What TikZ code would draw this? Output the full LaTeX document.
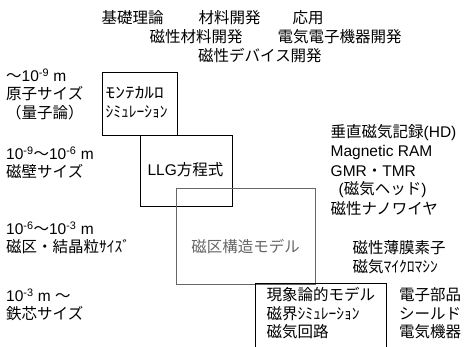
\documentclass[tikz,border=0pt]{standalone}
\usepackage{fontspec}
\setmainfont{Noto Sans CJK JP}
\newfontfamily\lat{Liberation Sans}
\begin{document}
\begin{tikzpicture}[x=1pt,y=-1pt,
  t/.style={anchor=west,inner sep=0pt,font=\fontsize{15.5}{18}\selectfont},
  tc/.style={anchor=center,inner sep=0pt,font=\fontsize{15.5}{18}\selectfont},
  box/.style={draw=black,line width=1pt},
  gbox/.style={draw=black!60,line width=1pt}]
\useasboundingbox (0,0) rectangle (464,347);
% boxes
\draw[box] (102.7,72.7) rectangle (177.3,136);
\draw[box] (140,136) rectangle (232.5,206.7);
\draw[gbox] (176.7,188.5) rectangle (315.7,285);
\draw[box] (255.5,348) -- (255.5,283.3) -- (386,283.3) -- (386,348);
% top headings
\node[t] (h1) at (101.5,18) {基礎理論};
\node[t] (h2) at (198.5,18) {材料開発};
\node[t] (h3) at (292.5,18) {応用};
\node[t] (h4) at (149.5,37) {磁性材料開発};
\node[t] (h5) at (277.5,37) {電気電子機器開発};
\node[t] (h6) at (198,56) {磁性デバイス開発};
% left scale labels
\node[t] (l1) at (6,75) {～{\lat 10\textsuperscript{-9} m}};
\node[t] (l2) at (6,94) {原子サイズ};
\node[t] (l3) at (6,113) {（量子論）};
\node[t] (l4) at (6,153) {{\lat 10\textsuperscript{-9}}～{\lat 10\textsuperscript{-6} m}};
\node[t] (l5) at (6,171) {磁壁サイズ};
\node[t] (l6) at (6,228) {{\lat 10\textsuperscript{-6}}～{\lat 10\textsuperscript{-3} m}};
\node[t] (l7) at (6,247) {磁区・結晶粒ｻｲｽﾞ};
\node[t] (l8) at (6,295) {{\lat 10\textsuperscript{-3} m }～};
\node[t] (l9) at (6,314) {鉄芯サイズ};
% box contents
\node[t] (b1a) at (105.5,93) {\scalebox{1.25}[1]{ﾓﾝﾃｶﾙﾛ}};
\node[t] (b1b) at (105.5,112) {ｼﾐｭﾚｰｼｮﾝ};
\node[tc] (b2) at (185.5,170) {{\lat LLG}方程式};
\node[tc,text=black!60] (b3) at (245.5,247) {磁区構造モデル};
\node[t] (b4a) at (266.5,295) {現象論的モデル};
\node[t] (b4b) at (266.5,313.5) {磁界ｼﾐｭﾚｰｼｮﾝ};
\node[t] (b4c) at (266.5,332) {磁気回路};
% right applications
\node[t] (r1) at (330.5,133) {垂直磁気記録{\lat (HD)}};
\node[t] (r2) at (330.5,152.5) {\lat Magnetic RAM};
\node[t] (r3) at (330.5,171.5) {{\lat GMR}・{\lat TMR}};
\node[t] (r4) at (338.5,190) {{\lat (}磁気ヘッド{\lat )}};
\node[t] (r5) at (330.5,208.5) {磁性ナノワイヤ};
\node[t] (r6) at (352.5,247.5) {磁性薄膜素子};
\node[t] (r7) at (352.5,267) {磁気ﾏｲｸﾛﾏｼﾝ};
\node[t] (r8) at (399,295) {電子部品};
\node[t] (r9) at (399,313.5) {シールド};
\node[t] (r10) at (399,332) {電気機器};
\end{tikzpicture}
\end{document}
